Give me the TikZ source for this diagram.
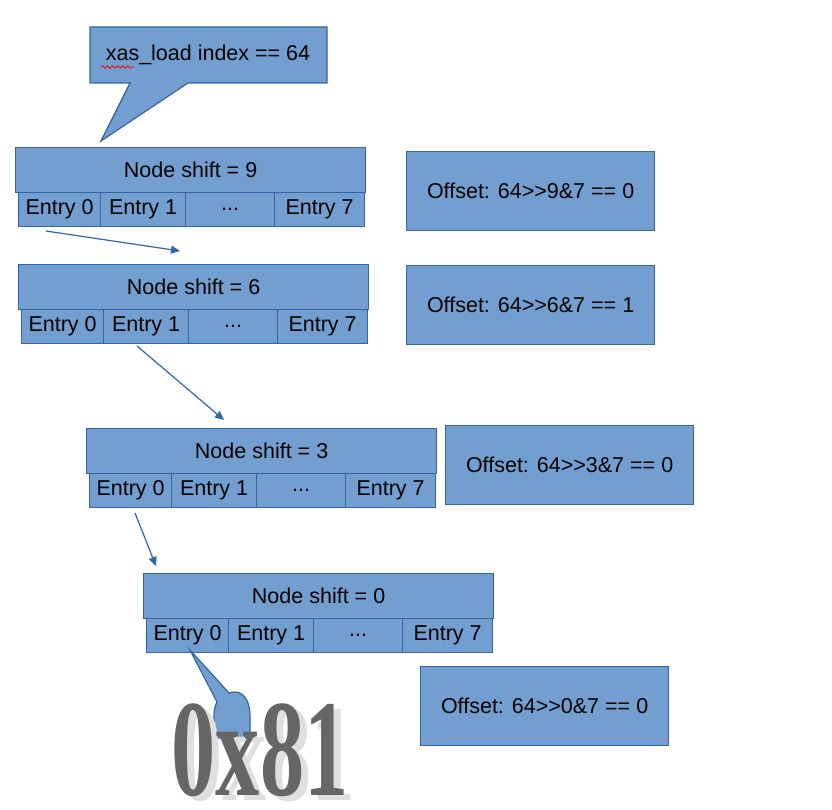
\documentclass[tikz,border=0pt]{standalone}
\usepackage{fontspec}
\setmainfont{Liberation Sans}
\newfontfamily\bigserif{Liberation Serif}
\usetikzlibrary{arrows.meta,decorations.pathmorphing}
\definecolor{boxfill}{HTML}{729FCF}
\definecolor{boxline}{HTML}{3465A4}
\begin{document}
\begin{tikzpicture}[x=1pt,y=-1pt,
  boxst/.style={draw=boxline,fill=boxfill,line width=1.2pt,inner sep=0pt,anchor=north west,font=\fontsize{21.5}{24}\selectfont},
  hdr/.style={boxst,minimum width=350pt,minimum height=45pt},
  cellst/.style={boxst,minimum height=34pt},
  offst/.style={boxst,minimum width=248pt,minimum height=79pt},
  conn/.style={boxline,line width=1.2pt,-{Triangle[length=9pt,width=8pt]}},
  hexst/.style={font=\bigserif\bfseries\fontsize{138}{138}\selectfont,xscale=0.64,anchor=base,inner sep=0pt}]
\useasboundingbox (0,0) rectangle (832,810);

% callout
\draw[boxline,fill=boxfill,line width=1.2pt] (90,27) -- (327,27) -- (327,83) -- (188,83) -- (101,141) -- (130,83) -- (90,83) -- cycle;
\node[font=\fontsize{21.5}{24}\selectfont] (call) at (208,55) {xas\_load index == 64};
\draw[red,line width=0.8pt,decorate,decoration={snake,amplitude=1.2pt,segment length=5pt}] (101,67) -- (134,67);

% level macro
\newcommand{\mylevel}[3]{%
  \node[hdr] (h#1) at (#2,#3) {Node shift = #1};
  \node[cellst,minimum width=82pt] (e#1a) at (#2+3,#3+45) {Entry 0};
  \node[cellst,minimum width=85pt] (e#1b) at (#2+85,#3+45) {Entry 1};
  \node[cellst,minimum width=89pt] (e#1c) at (#2+170,#3+45) {.{}.{}.};
  \node[cellst,minimum width=90pt] (e#1d) at (#2+259,#3+45) {Entry 7};
}
\mylevel{9}{15}{147}
\mylevel{6}{18}{264}
\mylevel{3}{86}{428}
\mylevel{0}{143}{573}

\node[offst] (o9) at (406,151) {Offset: 64{>}{>}9\&7 == 0};
\node[offst] (o6) at (406,265) {Offset: 64{>}{>}6\&7 == 1};
\node[offst] (o3) at (445,425) {Offset: 64{>}{>}3\&7 == 0};
\node[offst] (o0) at (420,666) {Offset: 64{>}{>}0\&7 == 0};

% connectors
\coordinate (a9s) at (46,231);
\coordinate (a9e) at (180,251);
\draw[conn] (a9s) -- (a9e);
\coordinate (a6s) at (137,346);
\coordinate (a6e) at (224,420);
\draw[conn] (a6s) -- (a6e);
\coordinate (a3s) at (135,513);
\coordinate (a3e) at (156,566);
\draw[conn] (a3s) -- (a3e);

% bubble
\coordinate (bp) at (190,650);
\draw[boxline,fill=boxfill,line width=1.2pt] (bp) -- (229,693) .. controls (244,688) and (250,702) .. (250,716) -- (250,738) -- (214,738) -- (214,714) .. controls (214,710) and (215,706) .. (217,702) -- cycle;

% 0x81
\node[hexst,gray!25] (shadow) at (267,800) {0x81};
\node[hexst,black!60] (hex) at (260,795) {0x81};
\end{tikzpicture}
\end{document}
